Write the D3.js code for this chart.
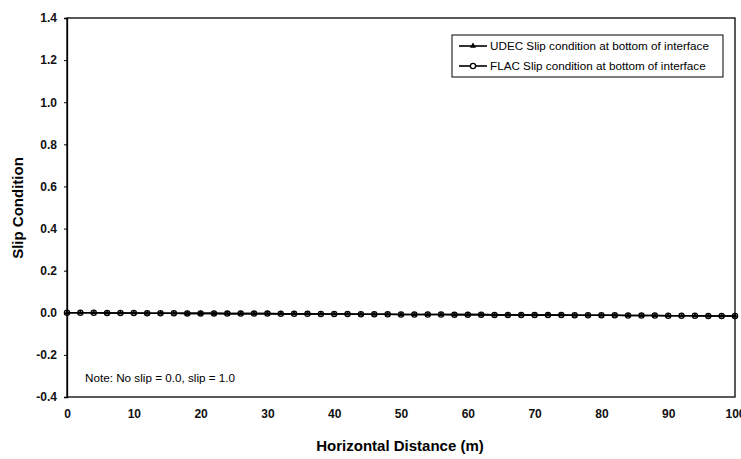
<!DOCTYPE html>
<html><head><meta charset="utf-8">
<script src="https://cdn.jsdelivr.net/npm/d3@7"></script>
<style>body{margin:0;background:#fff}</style>
</head><body>
<svg id="c" width="741" height="459"></svg>
<script>
const distance = [0,2,4,6,8,10,12,14,16,18,20,22,24,26,28,30,32,34,36,38,40,42,44,46,48,50,52,54,56,58,60,62,64,66,68,70,72,74,76,78,80,82,84,86,88,90,92,94,96,98,100];
const udecSlip = [0.000,0.000,0.000,-0.001,-0.001,-0.001,-0.002,-0.002,-0.002,-0.003,-0.003,-0.003,-0.004,-0.004,-0.004,-0.004,-0.005,-0.005,-0.005,-0.006,-0.006,-0.006,-0.007,-0.007,-0.007,-0.008,-0.008,-0.008,-0.008,-0.009,-0.009,-0.009,-0.010,-0.010,-0.010,-0.011,-0.011,-0.011,-0.012,-0.012,-0.012,-0.012,-0.013,-0.013,-0.013,-0.014,-0.014,-0.014,-0.015,-0.015,-0.015];
const flacSlip = [0.000,0.000,0.000,-0.001,-0.001,-0.001,-0.002,-0.002,-0.002,-0.003,-0.003,-0.003,-0.004,-0.004,-0.004,-0.004,-0.005,-0.005,-0.005,-0.006,-0.006,-0.006,-0.007,-0.007,-0.007,-0.008,-0.008,-0.008,-0.008,-0.009,-0.009,-0.009,-0.010,-0.010,-0.010,-0.011,-0.011,-0.011,-0.012,-0.012,-0.012,-0.012,-0.013,-0.013,-0.013,-0.014,-0.014,-0.014,-0.015,-0.015,-0.015];
const xTicks = [0,10,20,30,40,50,60,70,80,90,100];
const yTicks = [-0.4,-0.2,0.0,0.2,0.4,0.6,0.8,1.0,1.2,1.4];
const yTickLabels = ["-0.4","-0.2","0.0","0.2","0.4","0.6","0.8","1.0","1.2","1.4"];
const seriesNames = ["UDEC Slip condition at bottom of interface","FLAC Slip condition at bottom of interface"];
const noteText = "Note: No slip = 0.0, slip = 1.0";

const svg = d3.select("#c");
const L = 67, R = 735, T = 18, B = 397;
const x = d3.scaleLinear().domain([0,100]).range([L,R]);
const y = d3.scaleLinear().domain([-0.4,1.4]).range([B,T]);
const font = "'Liberation Sans', Arial, sans-serif";

// frame
svg.append("rect").attr("x",L).attr("y",T).attr("width",R-L).attr("height",B-T)
  .attr("fill","none").attr("stroke","#000").attr("stroke-width",1.3);

// y axis
const yAx = svg.append("g").attr("transform",`translate(${L},0)`)
  .call(d3.axisLeft(y).tickValues(yTicks).tickFormat((d,i)=>yTickLabels[i]).tickSize(3).tickPadding(7));
yAx.select(".domain").attr("stroke-width",1.3);
yAx.selectAll("text").attr("font-family",font).attr("font-size",12).attr("font-weight","bold").attr("fill","#111");

// x axis
const xAx = svg.append("g").attr("transform",`translate(0,${B})`)
  .call(d3.axisBottom(x).tickValues(xTicks).tickFormat(d3.format("d")).tickSize(0).tickPadding(12));
xAx.select(".domain").remove();
xAx.selectAll("text").attr("font-family",font).attr("font-size",12).attr("font-weight","bold").attr("fill","#111");

// titles
svg.append("text").attr("x",400).attr("y",451).attr("text-anchor","middle")
  .attr("font-family",font).attr("font-size",15).attr("font-weight","bold").text("Horizontal Distance (m)");
svg.append("text").attr("transform","translate(23,208) rotate(-90)").attr("text-anchor","middle")
  .attr("font-family",font).attr("font-size",15).attr("font-weight","bold").text("Slip Condition");

// data lines
const line = d3.line().x((d,i)=>x(distance[i])).y(d=>y(d));
svg.append("path").datum(flacSlip).attr("d",line).attr("fill","none").attr("stroke","#000").attr("stroke-width",1.6);
svg.append("path").datum(udecSlip).attr("d",line).attr("fill","none").attr("stroke","#000").attr("stroke-width",1.6);
const tri = d3.symbol().type(d3.symbolTriangle).size(12);
svg.append("g").selectAll("path").data(udecSlip).join("path")
  .attr("d",tri).attr("transform",(d,i)=>`translate(${x(distance[i])},${y(d)})`).attr("fill","#000");
svg.append("g").selectAll("circle").data(flacSlip).join("circle")
  .attr("cx",(d,i)=>x(distance[i])).attr("cy",d=>y(d)).attr("r",2.6)
  .attr("fill","none").attr("stroke","#000").attr("stroke-width",1.3);

// legend
const lg = svg.append("g");
lg.append("rect").attr("x",452).attr("y",35).attr("width",271).attr("height",42)
  .attr("fill","#fff").attr("stroke","#000").attr("stroke-width",1);
[0,1].forEach(k=>{
  const yy = 46 + k*20;
  lg.append("line").attr("x1",459).attr("x2",487).attr("y1",yy).attr("y2",yy).attr("stroke","#000").attr("stroke-width",1.6);
  if(k===0) lg.append("path").attr("d",d3.symbol().type(d3.symbolTriangle).size(16)).attr("transform",`translate(473,${yy})`).attr("fill","#000");
  else lg.append("circle").attr("cx",473).attr("cy",yy).attr("r",2.6).attr("fill","#fff").attr("stroke","#000").attr("stroke-width",1.3);
  lg.append("text").attr("x",490).attr("y",yy+4).attr("font-family",font).attr("font-size",11.7).text(seriesNames[k]);
});

// note
svg.append("text").attr("x",85).attr("y",382).attr("font-family",font).attr("font-size",11.7).text(noteText);
</script>
</body></html>
